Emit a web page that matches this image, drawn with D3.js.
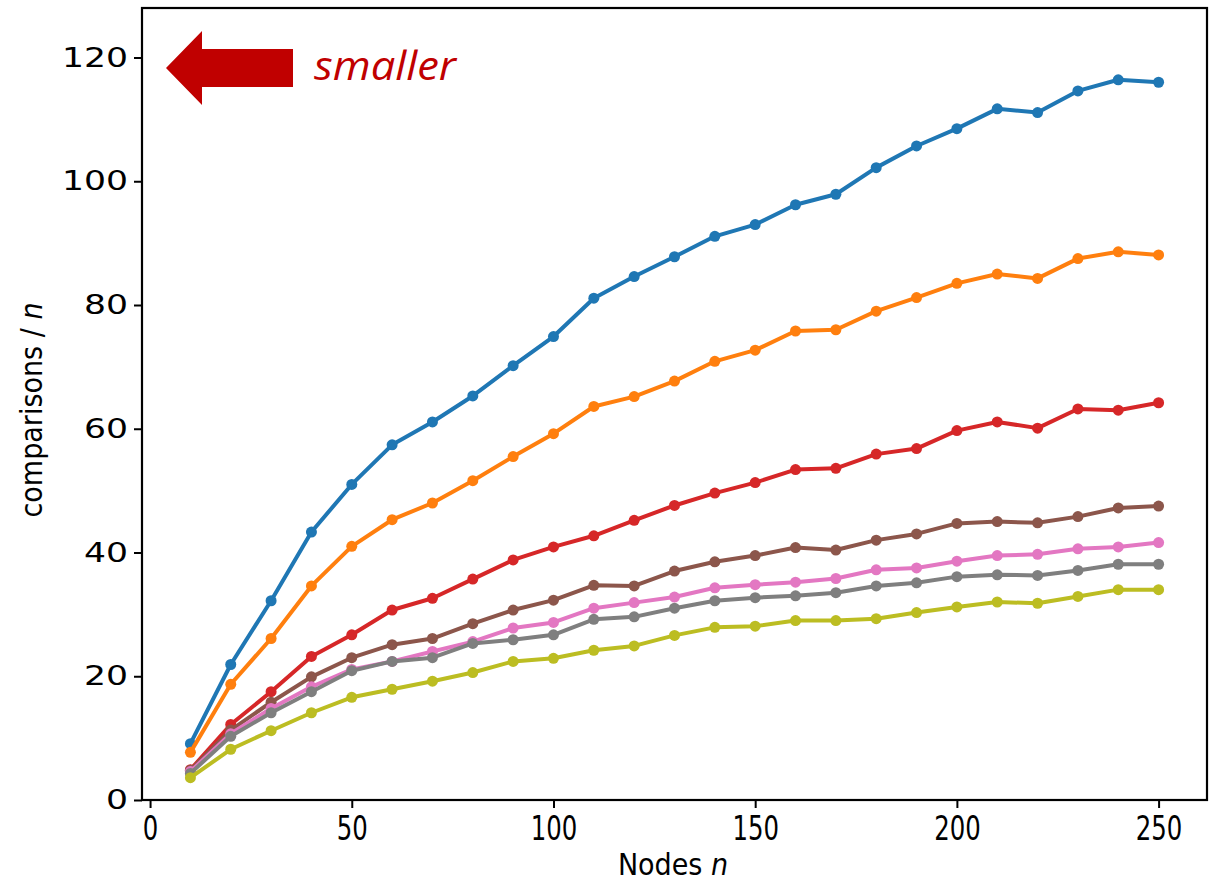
<!DOCTYPE html>
<html>
<head>
<meta charset="utf-8">
<script src="https://cdn.jsdelivr.net/npm/d3@7"></script>
<style>
  body { margin: 0; background: #fff; }
  svg { display: block; }
</style>
</head>
<body>
<div id="chart"></div>
<script>
// x values (number of nodes)
const nodes = [10, 20, 30, 40, 50, 60, 70, 80, 90, 100, 110, 120, 130, 140, 150,
               160, 170, 180, 190, 200, 210, 220, 230, 240, 250];

// comparisons / n, one array per curve (top to bottom)
const blueVals  = [9.1, 21.9, 32.2, 43.3, 51.0, 57.4, 61.1, 65.3, 70.2, 74.9, 81.1, 84.6, 87.8, 91.1, 93.0, 96.2, 97.9, 102.2, 105.7, 108.5, 111.7, 111.1, 114.6, 116.4, 116.0];
const orangeVals = [7.7, 18.7, 26.1, 34.6, 41.0, 45.3, 48.0, 51.6, 55.5, 59.2, 63.6, 65.2, 67.7, 70.9, 72.7, 75.8, 76.0, 79.0, 81.2, 83.5, 85.0, 84.3, 87.5, 88.6, 88.1];
const redVals   = [4.9, 12.2, 17.5, 23.2, 26.7, 30.7, 32.6, 35.7, 38.8, 40.9, 42.7, 45.2, 47.6, 49.6, 51.3, 53.4, 53.6, 55.9, 56.8, 59.7, 61.1, 60.1, 63.2, 63.0, 64.2];
const brownVals = [4.8, 11.3, 15.8, 19.9, 23.0, 25.1, 26.1, 28.5, 30.7, 32.3, 34.7, 34.6, 37.0, 38.5, 39.5, 40.8, 40.4, 42.0, 43.0, 44.7, 45.0, 44.8, 45.8, 47.2, 47.5];
const pinkVals  = [4.6, 10.7, 14.8, 18.3, 21.1, 22.4, 24.0, 25.6, 27.8, 28.7, 31.0, 31.9, 32.8, 34.3, 34.8, 35.2, 35.8, 37.2, 37.5, 38.6, 39.5, 39.7, 40.6, 40.9, 41.6];
const greyVals  = [4.3, 10.3, 14.1, 17.5, 20.9, 22.4, 23.0, 25.3, 25.9, 26.7, 29.2, 29.6, 31.0, 32.2, 32.7, 33.0, 33.5, 34.6, 35.1, 36.1, 36.4, 36.3, 37.1, 38.1, 38.1];
const oliveVals = [3.6, 8.2, 11.2, 14.1, 16.6, 17.9, 19.2, 20.6, 22.4, 22.9, 24.2, 24.9, 26.6, 27.9, 28.1, 29.0, 29.0, 29.3, 30.3, 31.2, 32.0, 31.8, 32.9, 34.0, 34.0];

const seriesColors = ["#1f77b4", "#ff7f0e", "#d62728", "#8c564b", "#e377c2", "#7f7f7f", "#bcbd22"];

const xTicks = [0, 50, 100, 150, 200, 250];
const yTicks = [0, 20, 40, 60, 80, 100, 120];

const series = [blueVals, orangeVals, redVals, brownVals, pinkVals, greyVals, oliveVals]
    .map((vals, i) => ({ color: seriesColors[i], values: vals.map((v, j) => ({ n: nodes[j], v: v })) }));

const width = 1211, height = 884;
const plot = { left: 142, right: 1207, top: 8, bottom: 800 };

const svg = d3.select("#chart")
    .append("svg")
    .attr("width", width)
    .attr("height", height);

svg.append("rect").attr("width", width).attr("height", height).attr("fill", "#fff");

const x = d3.scaleLinear().domain([-2, 262]).range([plot.left, plot.right]);
const y = d3.scaleLinear().domain([0, 128]).range([plot.bottom, plot.top]);

// axes
const xAxis = d3.axisBottom(x).tickValues(xTicks).tickSize(8).tickPadding(8).tickFormat(d3.format("d"));
const yAxis = d3.axisLeft(y).tickValues(yTicks).tickSize(8).tickPadding(6).tickFormat(d3.format("d"));

const gx = svg.append("g")
    .attr("transform", `translate(0,${plot.bottom})`)
    .call(xAxis);
gx.select(".domain").remove();
gx.selectAll(".tick line").attr("stroke", "#000").attr("stroke-width", 2);
gx.selectAll(".tick text")
    .attr("fill", "#000")
    .attr("font-family", "'Liberation Sans Narrow', 'DejaVu Sans Condensed', 'Liberation Sans', sans-serif")
    .attr("font-stretch", "condensed")
    .attr("font-size", 34)
    .attr("textLength", d => String(d).length * 15.5)
    .attr("lengthAdjust", "spacingAndGlyphs");

const gy = svg.append("g")
    .attr("transform", `translate(${plot.left},0)`)
    .call(yAxis);
gy.select(".domain").remove();
gy.selectAll(".tick line").attr("stroke", "#000").attr("stroke-width", 2);
gy.selectAll(".tick text")
    .attr("fill", "#000")
    .attr("font-family", "'DejaVu Sans', sans-serif")
    .attr("font-size", 27)
    .attr("textLength", d => String(d).length * 22)
    .attr("lengthAdjust", "spacingAndGlyphs");

// frame
svg.append("rect")
    .attr("x", plot.left)
    .attr("y", plot.top)
    .attr("width", plot.right - plot.left)
    .attr("height", plot.bottom - plot.top)
    .attr("fill", "none")
    .attr("stroke", "#000")
    .attr("stroke-width", 2.2);

// axis titles
const xTitle = svg.append("text")
    .attr("x", 673)
    .attr("y", 875)
    .attr("text-anchor", "middle")
    .attr("font-family", "'Liberation Sans Narrow', 'DejaVu Sans Condensed', 'Liberation Sans', sans-serif")
    .attr("font-stretch", "condensed")
    .attr("font-size", 30)
    .attr("fill", "#000");
xTitle.append("tspan").text("Nodes ");
xTitle.append("tspan").attr("font-style", "italic").text("n");

const yTitle = svg.append("text")
    .attr("transform", "translate(42,410) rotate(-90)")
    .attr("text-anchor", "middle")
    .attr("font-family", "'Liberation Sans Narrow', 'DejaVu Sans Condensed', 'Liberation Sans', sans-serif")
    .attr("font-stretch", "condensed")
    .attr("font-size", 30)
    .attr("fill", "#000");
yTitle.append("tspan").text("comparisons / ");
yTitle.append("tspan").attr("font-style", "italic").text("n");

// lines and markers
const line = d3.line()
    .x(d => x(d.n))
    .y(d => y(d.v));

const groups = svg.append("g")
    .selectAll("g.series")
    .data(series)
    .join("g")
    .attr("class", "series");

groups.append("path")
    .attr("d", d => line(d.values))
    .attr("fill", "none")
    .attr("stroke", d => d.color)
    .attr("stroke-width", 4)
    .attr("stroke-linejoin", "round");

groups.selectAll("circle")
    .data(d => d.values.map(p => ({ ...p, color: d.color })))
    .join("circle")
    .attr("cx", d => x(d.n))
    .attr("cy", d => y(d.v))
    .attr("r", 5.5)
    .attr("fill", d => d.color);

// "smaller" arrow annotation
const arrowRed = "#c00000";
svg.append("polygon")
    .attr("points", [[166, 68], [202, 31], [202, 49], [293, 49], [293, 87], [202, 87], [202, 105]].join(" "))
    .attr("fill", arrowRed);

svg.append("text")
    .attr("x", 314)
    .attr("y", 80)
    .attr("font-family", "'Open Sans', 'Noto Sans', sans-serif")
    .attr("font-style", "italic")
    .attr("font-size", 40)
    .attr("textLength", 142)
    .attr("lengthAdjust", "spacingAndGlyphs")
    .attr("fill", arrowRed)
    .text("smaller");
</script>
</body>
</html>
